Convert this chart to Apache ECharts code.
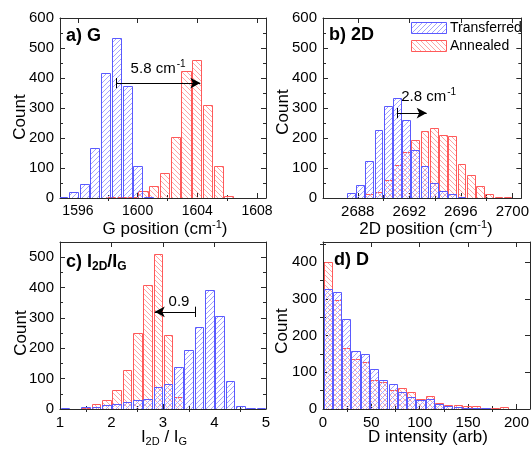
<!DOCTYPE html>
<html><head><meta charset="utf-8">
<script src="https://cdn.jsdelivr.net/npm/echarts@6/dist/echarts.min.js"></script>
<style>html,body{margin:0;padding:0;background:#fff}#c{width:532px;height:453px}</style>
</head><body><div id="c"></div>
<script>
// ---------- DATA ----------
// a) G position histogram (cm^-1)
const aBin = 0.72;
const aBlueX = [1594.97,1595.69,1596.41,1597.13,1597.85,1598.57,1599.29,1600.01,1600.73,1601.45];
const aBlueY = [5,19,48,168,418,533,373,107,2,1];
const aRedX  = [1598.20,1598.92,1599.64,1600.36,1601.08,1601.80,1602.52,1603.24,1603.96,1604.68,1605.40,1606.12];
const aRedY  = [2,2,3,23,41,84,204,423,461,311,107,8];
const aTicks = [1596,1600,1604,1608];
const aMinor = [1598,1602,1606];
// b) 2D position histogram
const bBin = 0.716;
const bBlueX = [2687.46,2688.18,2688.89,2689.61,2690.32,2691.04,2691.76,2692.47,2693.19,2693.90,2694.62,2695.34,2696.05];
const bBlueY = [18,45,124,226,308,333,261,159,106,50,24,14,3];
const bRedX  = [2688.89,2689.61,2690.32,2691.04,2691.76,2692.47,2693.19,2693.90,2694.62,2695.34,2696.05,2696.77,2697.48,2698.20,2698.92,2699.63];
const bRedY  = [12,20,61,111,153,192,224,232,209,206,114,76,40,14,3,3];
const bTicks = [2688,2692,2696,2700];
const bMinor = [2690,2694,2698];
// c) I2D/IG histogram
const cBin = 0.2;
const cBlueX = [1.1,1.3,1.5,1.7,1.9,2.1,2.3,2.5,2.7,2.9,3.1,3.3,3.5,3.7,3.9,4.1,4.3,4.5,4.7,4.9];
const cBlueY = [2,0,5,8,12,17,24,31,34,71,82,138,193,270,392,306,93,11,2,2];
const cRedX  = [1.5,1.7,1.9,2.1,2.3,2.5,2.7,2.9,3.1,3.3];
const cRedY  = [3,18,29,64,128,249,409,509,243,38];
const cTicks = [1,2,3,4,5];
const cMinor = [1.5,2.5,3.5,4.5];
// d) D intensity histogram
const dBin = 9.6;
const dX     = [4.8,14.4,24,33.6,43.2,52.8,62.4,72,81.6,91.2,100.8,110.4,120,129.6,139.2,148.8,158.4,168,177.6,187.2,196.8];
const dRedY  = [400,298,165,137,128,78,73,53,57,47,26,35,16,12,10,7,7,4,2,5,1];
const dBlueY = [327,318,245,158,151,110,80,69,47,33,24,26,14,7,5,4,3,2,1,1,1];
const dTicks = [0,50,100,150,200];
const dMinor = [25,75,125,175];
const yTicks600 = [0,100,200,300,400,500,600];
const yMinor600 = [50,150,250,350,450,550];
const yTicks550 = [0,100,200,300,400,500];
const yMinor550 = [50,150,250,350,450];
const yTicks455 = [0,100,200,300,400];
const yMinor455 = [50,150,250,350,450];
const legendNames = ['Transferred','Annealed'];

// ---------- STYLE ----------
const FF = '"Liberation Sans", Arial, Helvetica, sans-serif';
const AX = '#2a2a2a';
const BLUE = '#5a5aff', RED = '#ff5a5a';
const BLUE_H = '#a4a4ff', RED_H = '#ffa4a4';

function hatch(color, dir) {
  const s = 5, c = document.createElement('canvas');
  c.width = s; c.height = s;
  const g = c.getContext('2d');
  g.strokeStyle = color; g.lineWidth = 1;
  g.beginPath();
  if (dir > 0) {
    g.moveTo(0, s); g.lineTo(s, 0);
    g.moveTo(-1, 1); g.lineTo(1, -1);
    g.moveTo(s - 1, s + 1); g.lineTo(s + 1, s - 1);
  } else {
    g.moveTo(0, 0); g.lineTo(s, s);
    g.moveTo(-1, s - 1); g.lineTo(1, s + 1);
    g.moveTo(s - 1, -1); g.lineTo(s + 1, 1);
  }
  g.stroke();
  return {image: c, repeat: 'repeat'};
}
const blueFill = hatch(BLUE_H, 1);
const redFill = hatch(RED_H, -1);

const grids = [
  {left: 60, top: 18, width: 206, height: 180},
  {left: 323, top: 18, width: 207, height: 180},
  {left: 60, top: 242, width: 206, height: 167},
  {left: 323, top: 242, width: 207, height: 167}
];

const plain = v => String(v);
const xAxes = [], yAxes = [];
function addX(gi, min, max, majors, minors, fs) {
  const base = {type: 'value', gridIndex: gi, min, max, splitLine: {show: false}, scale: true};
  const line = {show: true, onZero: false, lineStyle: {color: AX, width: 1}};
  xAxes.push(Object.assign({}, base, {position: 'bottom', axisLine: line,
    axisTick: {show: true, inside: true, length: 5, customValues: majors, lineStyle: {color: AX}},
    axisLabel: {show: true, customValues: majors, formatter: plain, fontSize: fs, color: '#000', margin: 6, fontFamily: FF}}));
  xAxes.push(Object.assign({}, base, {position: 'bottom', axisLine: {show: false},
    axisTick: {show: true, inside: true, length: 3, customValues: minors, lineStyle: {color: AX}},
    axisLabel: {show: false}}));
  xAxes.push(Object.assign({}, base, {position: 'top', axisLine: line,
    axisTick: {show: true, inside: true, length: 5, customValues: majors, lineStyle: {color: AX}},
    axisLabel: {show: false}}));
  xAxes.push(Object.assign({}, base, {position: 'top', axisLine: {show: false},
    axisTick: {show: true, inside: true, length: 3, customValues: minors, lineStyle: {color: AX}},
    axisLabel: {show: false}}));
}
function addY(gi, max, majors, minors, fs) {
  const base = {type: 'value', gridIndex: gi, min: 0, max, splitLine: {show: false}};
  const line = {show: true, onZero: false, lineStyle: {color: AX, width: 1}};
  yAxes.push(Object.assign({}, base, {position: 'left', axisLine: line,
    axisTick: {show: true, inside: true, length: 5, customValues: majors, lineStyle: {color: AX}},
    axisLabel: {show: true, customValues: majors, formatter: plain, fontSize: fs, color: '#000', margin: 6, fontFamily: FF}}));
  yAxes.push(Object.assign({}, base, {position: 'left', axisLine: {show: false},
    axisTick: {show: true, inside: true, length: 3, customValues: minors, lineStyle: {color: AX}},
    axisLabel: {show: false}}));
  yAxes.push(Object.assign({}, base, {position: 'right', axisLine: line,
    axisTick: {show: true, inside: true, length: 5, customValues: majors, lineStyle: {color: AX}},
    axisLabel: {show: false}}));
  yAxes.push(Object.assign({}, base, {position: 'right', axisLine: {show: false},
    axisTick: {show: true, inside: true, length: 3, customValues: minors, lineStyle: {color: AX}},
    axisLabel: {show: false}}));
}
addX(0, 1594.8, 1608.6, aTicks, aMinor, 14);
addX(1, 2685.3, 2700.7, bTicks, bMinor, 15);
addX(2, 1, 5, cTicks, cMinor, 15);
addX(3, 0, 214, dTicks, dMinor, 15);
addY(0, 600, yTicks600, yMinor600, 15);
addY(1, 600, yTicks600, yMinor600, 15);
addY(2, 550, yTicks550, yMinor550, 15);
addY(3, 455, yTicks455, yMinor455, 15);

function histSeries(gi, xs, ys, bin, frac, fill, stroke, z) {
  const w = bin * frac;
  return {
    type: 'custom', xAxisIndex: gi * 4, yAxisIndex: gi * 4, z, clip: true, silent: true,
    data: xs.map((x, i) => [x, ys[i]]),
    renderItem: function (params, api) {
      const x = api.value(0), y = api.value(1);
      const p0 = api.coord([x - w / 2, 0]);
      const p1 = api.coord([x + w / 2, y]);
      const left = Math.round(p0[0]) + 0.5, right = Math.round(p1[0]) + 0.5;
      const bottom = Math.round(p0[1]) + 0.5, top = Math.round(p1[1]) + 0.5;
      return {type: 'rect', shape: {x: left, y: top, width: right - left, height: bottom - top},
        style: {fill: fill, stroke: stroke, lineWidth: 1}};
    }
  };
}

const supRich = {
  n: {fontSize: 15, fontFamily: FF, color: '#000', lineHeight: 18},
  s: {fontSize: 10, fontFamily: FF, color: '#000', lineHeight: 10, padding: [0, 0, 9, 1]}
};
function annot(gi, arrowY, xFrom, xTo, tickH, textXY, text) {
  return {
    type: 'scatter', xAxisIndex: gi * 4, yAxisIndex: gi * 4, data: [], silent: true,
    markLine: {
      silent: true, animation: false, symbol: ['none', 'none'],
      lineStyle: {color: '#000', width: 1, type: 'solid'}, label: {show: false},
      data: [
        [{coord: [xFrom, arrowY]}, {coord: [xTo, arrowY], symbol: 'arrow', symbolSize: [8, 10]}],
        [{coord: [xFrom, arrowY - tickH]}, {coord: [xFrom, arrowY + tickH]}]
      ]
    },
    markPoint: {
      silent: true, animation: false, symbol: 'rect', symbolSize: 1,
      itemStyle: {color: 'rgba(0,0,0,0)'},
      label: {show: true, position: 'inside', formatter: text, rich: supRich},
      data: [{coord: textXY}]
    }
  };
}

const series = [
  histSeries(0, aRedX, aRedY, aBin, 0.84, redFill, RED, 2),
  histSeries(0, aBlueX, aBlueY, aBin, 0.84, blueFill, BLUE, 3),
  histSeries(1, bRedX, bRedY, bBin, 0.84, redFill, RED, 2),
  histSeries(1, bBlueX, bBlueY, bBin, 0.84, blueFill, BLUE, 3),
  histSeries(2, cRedX, cRedY, cBin, 0.84, redFill, RED, 2),
  histSeries(2, cBlueX, cBlueY, cBin, 0.84, blueFill, BLUE, 3),
  histSeries(3, dX, dRedY, dBin, 0.87, redFill, RED, 2),
  histSeries(3, dX, dBlueY, dBin, 0.87, blueFill, BLUE, 3),
  annot(0, 383, 1598.57, 1604.2, 17, [1601.37, 432], '{n|5.8 cm}{s|-1}'),
  annot(1, 283, 2691.04, 2693.35, 17, [2693.5, 336], '{n|2.8 cm}{s|-1}'),
  annot(2, 320, 3.62, 2.84, 17, [3.31, 353], '{n|0.9}')
];

// ---------- TEXT (titles, axis names, legend) ----------
function txt(x, y, text, opts) {
  return Object.assign({type: 'text', x, y, silent: true, z: 50,
    style: Object.assign({text, fontFamily: FF, fontSize: 17, fill: '#000', align: 'center', verticalAlign: 'middle'}, opts || {})});
}
const titleRich = {
  m: {fontSize: 18, fontWeight: 'bold', fontFamily: FF, lineHeight: 20, color: '#000'},
  s: {fontSize: 12, fontWeight: 'bold', fontFamily: FF, lineHeight: 12, padding: [9, 0, 0, 0], color: '#000'}
};
const nameRich = {
  m: {fontSize: 17, fontFamily: FF, lineHeight: 20, color: '#000'},
  p: {fontSize: 11, fontFamily: FF, lineHeight: 11, padding: [0, 0, 9, 0], color: '#000'},
  s: {fontSize: 11, fontFamily: FF, lineHeight: 11, padding: [10, 0, 0, 0], color: '#000'}
};
const graphics = [
  txt(66, 36, 'a) G', {fontSize: 18, fontWeight: 'bold', align: 'left'}),
  txt(329, 35, 'b) 2D', {fontSize: 18, fontWeight: 'bold', align: 'left'}),
  txt(66, 262, '{m|c) I}{s|2D}{m|/I}{s|G}', {rich: titleRich, align: 'left'}),
  txt(334, 260, 'd) D', {fontSize: 18, fontWeight: 'bold', align: 'left'}),
  Object.assign(txt(20, 117, 'Count'), {rotation: Math.PI / 2}),
  Object.assign(txt(283, 112, 'Count'), {rotation: Math.PI / 2}),
  Object.assign(txt(21, 333, 'Count'), {rotation: Math.PI / 2}),
  Object.assign(txt(282, 331, 'Count'), {rotation: Math.PI / 2}),
  txt(165, 229, '{m|G position (cm}{p|-1}{m|)}', {rich: nameRich}),
  txt(426, 229, '{m|2D position (cm}{p|-1}{m|)}', {rich: nameRich}),
  txt(164, 437, '{m|I}{s|2D}{m| / I}{s|G}', {rich: nameRich}),
  txt(428, 437, 'D intensity (arb)'),
  {type: 'rect', silent: true, z: 50, shape: {x: 411.5, y: 22.5, width: 35, height: 11}, style: {fill: blueFill, stroke: BLUE, lineWidth: 1}},
  {type: 'rect', silent: true, z: 50, shape: {x: 411.5, y: 40.5, width: 35, height: 11}, style: {fill: redFill, stroke: RED, lineWidth: 1}},
  txt(450, 28.5, legendNames[0], {fontSize: 14, align: 'left'}),
  txt(450, 46.5, legendNames[1], {fontSize: 14, align: 'left'})
];

const chart = echarts.init(document.getElementById('c'), null, {renderer: 'canvas'});
chart.setOption({
  animation: false,
  backgroundColor: '#fff',
  grid: grids,
  xAxis: xAxes,
  yAxis: yAxes,
  series: series,
  graphic: graphics
});
</script>
</body></html>
